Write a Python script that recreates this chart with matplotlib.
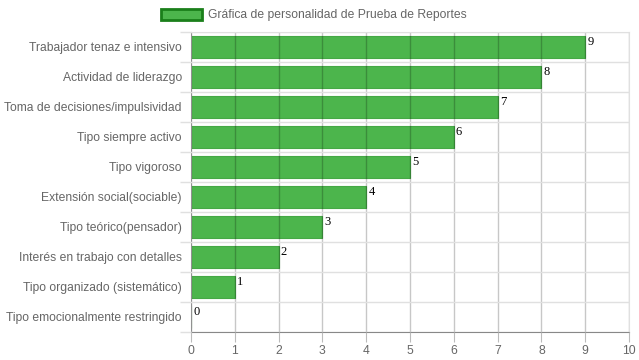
import matplotlib
matplotlib.use('Agg')
import matplotlib.pyplot as plt
import numpy as np

# Data
categories = [
    'Trabajador tenaz e intensivo',
    'Actividad de liderazgo',
    'Toma de decisiones/impulsividad',
    'Tipo siempre activo',
    'Tipo vigoroso',
    'Extensión social(sociable)',
    'Tipo teórico(pensador)',
    'Interés en trabajo con detalles',
    'Tipo organizado (sistemático)',
    'Tipo emocionalmente restringido',
]
values = [9, 8, 7, 6, 5, 4, 3, 2, 1, 0]
legend_label = 'Gráfica de personalidad de Prueba de Reportes'

plt.rcParams['font.family'] = ['Liberation Sans', 'DejaVu Sans']

W, H = 639, 360
fig = plt.figure(figsize=(W / 100, H / 100), dpi=100)
ax = fig.add_axes([191 / W, (H - 332) / H, (629 - 191) / W, 300 / H])

y = np.arange(len(categories))
bars = ax.barh(y, values, height=0.72, color='#4cb54c', edgecolor='#45a845',
               linewidth=0.8, zorder=2, label=legend_label)

ax.set_xlim(0, 10)
ax.set_ylim(len(categories) - 0.5, -0.5)

# labels at category centres, grid/ticks at boundaries
ax.set_yticks(y)
ax.set_yticklabels(categories)
ax.set_yticks(np.arange(-0.5, len(categories), 1), minor=True)
ax.tick_params(axis='y', which='major', length=0, pad=6.5, labelsize=8.7, labelcolor='#666666')
ax.tick_params(axis='y', which='minor', length=8, color='#e0e0e0', width=1)
ax.grid(axis='y', which='minor', color='#e0e0e0', linewidth=1, zorder=0)

ax.set_xticks(np.arange(0, 11, 1))
ax.tick_params(axis='x', length=7, color='#bbbbbb', pad=2, labelsize=8.7, labelcolor='#666666')
ax.grid(axis='x', which='major', color='black', alpha=0.22, linewidth=1, zorder=3)

for side in ['top', 'right']:
    ax.spines[side].set_color('#e0e0e0')
ax.spines['left'].set_color('#bbbbbb')
ax.spines['bottom'].set_color('#888888')
ax.set_axisbelow(False)

# value labels
for yi, v in zip(y, values):
    ax.text(v + 0.05, yi - 0.36, str(v), family='Liberation Serif', fontsize=9,
            color='black', ha='left', va='top', zorder=4)

leg = fig.legend(handles=[bars], labels=[legend_label], loc='center',
                 bbox_to_anchor=(0.491, 1 - 15 / H), frameon=False, fontsize=8.7,
                 handlelength=3.4, handleheight=1.1, handletextpad=0.45,
                 labelcolor='#666666')
for p in leg.get_patches():
    p.set_edgecolor('#1a7f1a')
    p.set_linewidth(2)

fig.savefig('out.png', dpi=100)
